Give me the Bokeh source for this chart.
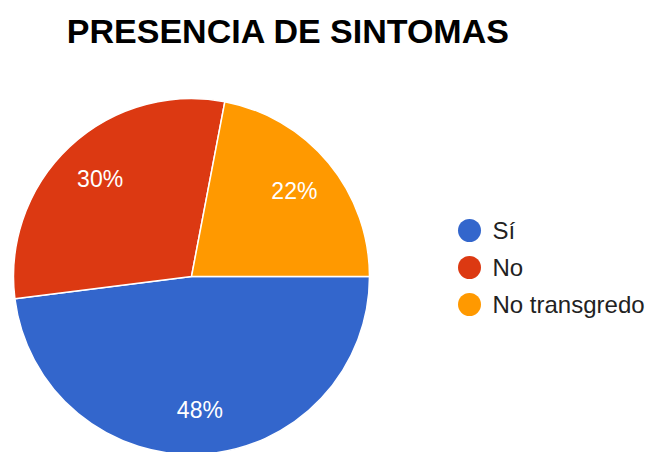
import math
from bokeh.plotting import figure
from bokeh.models import Range1d, ColumnDataSource
from bokeh.core.properties import value
from bokeh.embed import file_html
from bokeh.resources import INLINE

title_text = "PRESENCIA DE SINTOMAS"
categories = ["Sí", "No", "No transgredo"]
values = [48, 30, 22]
colors = ["#3366cc", "#dc3912", "#ff9900"]

W, H = 647, 452
p = figure(width=W, height=H, output_backend="svg", toolbar_location=None,
           x_range=Range1d(0, W), y_range=Range1d(0, H), min_border=0)
p.axis.visible = False
p.grid.visible = False
p.outline_line_color = None
p.background_fill_color = "white"
p.border_fill_color = "white"

# pie geometry (screen-ish units)
cx, cy, r = 191, H - 276, 178
total = float(sum(values))
starts, ends, lx, ly, labels = [], [], [], [], []
cum = 0.0
for v in values:
    a0 = -2 * math.pi * cum / total
    cum += v
    a1 = -2 * math.pi * cum / total
    starts.append(a0)
    ends.append(a1)
    mid = (a0 + a1) / 2
    lx.append(cx + 0.75 * r * math.cos(mid))
    ly.append(cy + 0.75 * r * math.sin(mid))
    labels.append(f"{round(100 * v / total)}%")

src = ColumnDataSource(dict(start=starts, end=ends, color=colors,
                            lx=lx, ly=ly, label=labels, cat=categories))
p.wedge(x=cx, y=cy, radius=r, start_angle="start", end_angle="end",
        direction="clock", fill_color="color", line_color="white",
        line_width=1.5, source=src)
p.text(x="lx", y="ly", text="label", source=src, text_color="white",
       text_font=value("Liberation Sans"), text_font_size="23px",
       text_align="center", text_baseline="middle")

# title
p.text(x=[288], y=[H - 30], text=[title_text], text_color="black",
       text_font=value("Liberation Sans"), text_font_style="bold",
       text_font_size="34px", text_align="center", text_baseline="middle")

# legend
leg_x = 469
leg_y = [H - 230 - 37 * i for i in range(len(categories))]
p.scatter(x=[leg_x] * len(categories), y=leg_y, size=23, marker="circle",
          fill_color=colors, line_color=None)
p.text(x=[leg_x + 23] * len(categories), y=leg_y, text=categories,
       text_color="#222222", text_font=value("Liberation Sans"),
       text_font_size="24px", text_align="left", text_baseline="middle")

open("out.html", "w").write(file_html(p, INLINE))
